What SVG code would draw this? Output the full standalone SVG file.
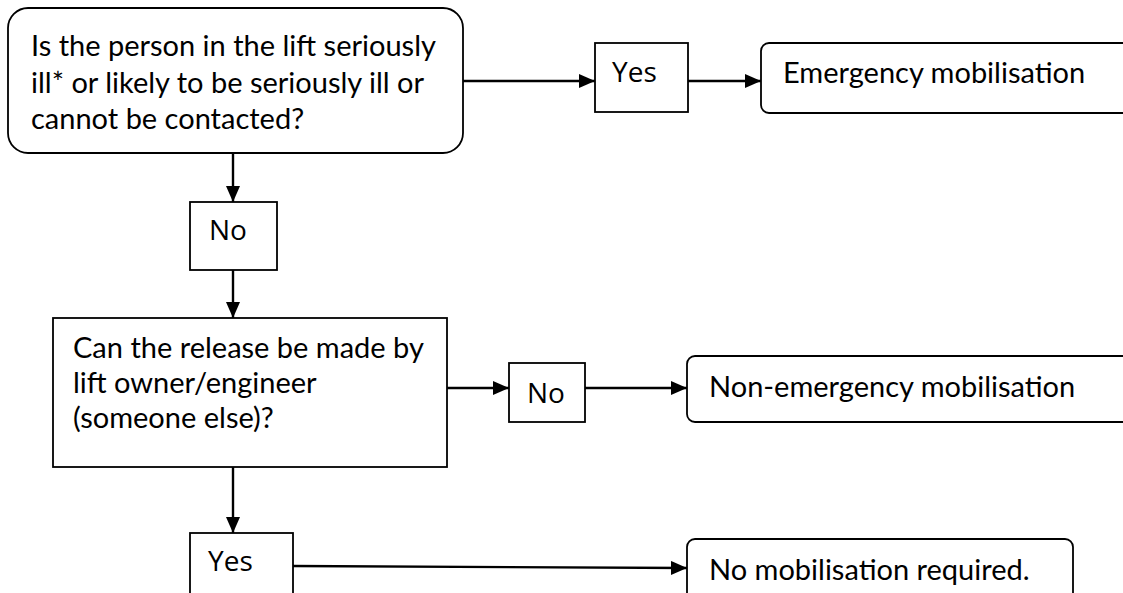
<svg xmlns="http://www.w3.org/2000/svg" width="1123" height="593" viewBox="0 0 1123 593">
<style>
.box{fill:#fff;stroke:#000;stroke-width:1.8}
.t{font-family:Lato,"Open Sans",sans-serif;font-size:29px;fill:#000}
.s{font-family:"Open Sans","Liberation Sans",sans-serif;font-size:28px;fill:#000}
.c{stroke:#000;stroke-width:2.4;fill:none;marker-end:url(#ah)}
</style>
<defs>
<marker id="ah" markerWidth="16" markerHeight="14" refX="16" refY="7" orient="auto" markerUnits="userSpaceOnUse">
<path d="M0,0 L16,7 L0,14 Z" fill="#000"/>
</marker>
</defs>
<g id="q1">
<rect class="box" x="8" y="8" width="455" height="145" rx="20"/>
<text class="t" x="31" y="56">Is the person in the lift seriously</text>
<text class="t" x="31" y="93">ill* or likely to be seriously ill or</text>
<text class="t" x="31" y="129">cannot be contacted?</text>
</g>
<g id="yes1">
<rect class="box" x="595" y="43" width="93" height="69"/>
<text class="s" x="612" y="82">Yes</text>
</g>
<g id="emergency">
<rect class="box" x="761" y="43" width="370" height="70" rx="8"/>
<text class="t" x="783" y="83">Emergency mobilisation</text>
</g>
<g id="no1">
<rect class="box" x="190" y="202" width="87" height="68"/>
<text class="s" x="209" y="240">No</text>
</g>
<g id="q2">
<rect class="box" x="53" y="318" width="394" height="149"/>
<text class="t" x="73" y="358">Can the release be made by</text>
<text class="t" x="73" y="393">lift owner/engineer</text>
<text class="t" x="73" y="428">(someone else)?</text>
</g>
<g id="no2">
<rect class="box" x="509" y="363" width="76" height="59"/>
<text class="s" x="527" y="403">No</text>
</g>
<g id="nonemergency">
<rect class="box" x="687" y="356" width="444" height="66" rx="8"/>
<text class="t" x="709" y="397">Non-emergency mobilisation</text>
</g>
<g id="yes2">
<rect class="box" x="190" y="533" width="103" height="70"/>
<text class="s" x="208" y="571">Yes</text>
</g>
<g id="nomob">
<rect class="box" x="687" y="539" width="386" height="64" rx="8"/>
<text class="t" x="709" y="580">No mobilisation required.</text>
</g>
<g id="connectors">
<line class="c" x1="463" y1="81" x2="595" y2="81"/>
<line class="c" x1="688" y1="81" x2="761" y2="81"/>
<line class="c" x1="233" y1="153" x2="233" y2="202"/>
<line class="c" x1="233" y1="270" x2="233" y2="318"/>
<line class="c" x1="447" y1="388" x2="509" y2="388"/>
<line class="c" x1="585" y1="388" x2="687" y2="388"/>
<line class="c" x1="233" y1="467" x2="233" y2="533"/>
<line class="c" x1="293" y1="566" x2="687" y2="568"/>
</g>
</svg>
